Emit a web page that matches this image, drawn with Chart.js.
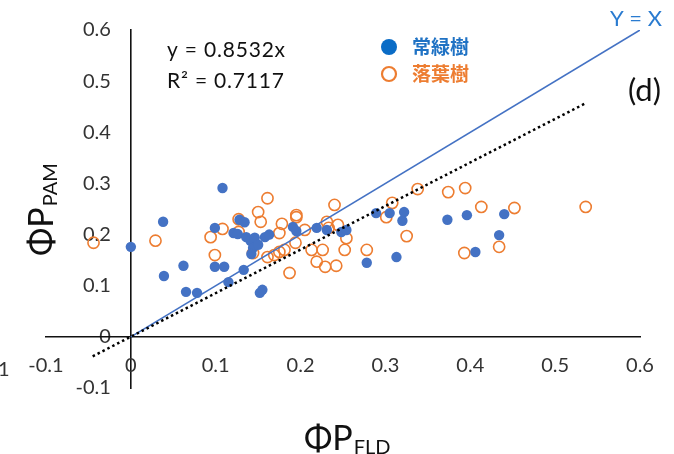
<!DOCTYPE html>
<html>
<head>
<meta charset="utf-8">
<script src="https://cdn.jsdelivr.net/npm/chart.js@4.4.1/dist/chart.umd.min.js"></script>
<style>
  html, body { margin: 0; padding: 0; background: #fff; }
  #wrap { width: 674px; height: 454px; }
</style>
</head>
<body>
<div id="wrap"><canvas id="phiChart" width="674" height="454"></canvas></div>
<script>
// evergreen (常緑樹) points
const evergreenX = [0, 0.038, 0.039, 0.062, 0.065, 0.078, 0.108, 0.099, 0.099, 0.110, 0.115, 0.133, 0.152, 0.155,
  0.128, 0.134, 0.121, 0.126, 0.136, 0.141, 0.146, 0.144, 0.142, 0.150, 0.158, 0.163, 0.191, 0.195, 0.219, 0.231,
  0.248, 0.254, 0.289, 0.305, 0.278, 0.313, 0.322, 0.320, 0.373, 0.396, 0.406, 0.434, 0.440];
const evergreenY = [0.176, 0.225, 0.119, 0.139, 0.088, 0.086, 0.291, 0.213, 0.137, 0.137, 0.107, 0.131, 0.086, 0.092,
  0.229, 0.224, 0.203, 0.201, 0.195, 0.188, 0.194, 0.174, 0.162, 0.180, 0.195, 0.200, 0.215, 0.207, 0.213, 0.209,
  0.205, 0.209, 0.242, 0.242, 0.145, 0.156, 0.244, 0.227, 0.229, 0.238, 0.166, 0.199, 0.240];

// deciduous (落葉樹) points
const deciduousX = [-0.044, 0.029, 0.094, 0.099, 0.108, 0.127, 0.127, 0.150, 0.153, 0.161, 0.144, 0.161, 0.169, 0.175,
  0.181, 0.178, 0.175, 0.195, 0.195, 0.194, 0.205, 0.187, 0.213, 0.219, 0.226, 0.229, 0.242, 0.231, 0.233, 0.240,
  0.244, 0.254, 0.252, 0.278, 0.301, 0.308, 0.338, 0.325, 0.374, 0.394, 0.413, 0.452, 0.393, 0.434, 0.536];
const deciduousY = [0.184, 0.188, 0.195, 0.160, 0.211, 0.230, 0.205, 0.244, 0.225, 0.271, 0.164, 0.156, 0.160, 0.166,
  0.170, 0.221, 0.203, 0.238, 0.234, 0.184, 0.209, 0.125, 0.170, 0.147, 0.170, 0.137, 0.139, 0.225, 0.213, 0.258,
  0.219, 0.193, 0.170, 0.170, 0.234, 0.262, 0.289, 0.197, 0.283, 0.291, 0.254, 0.252, 0.164, 0.176, 0.254];

// reference line Y = X and trend line y = 0.8532x (end points)
const identityX = [0, 0.6];
const identityY = [0, 0.6];
const trendX = [-0.045, 0.535];
const trendY = [-0.038, 0.456];

const tickValues = [-0.1, 0, 0.1, 0.2, 0.3, 0.4, 0.5, 0.6];

const BLUE = '#4472C4';
const ORANGE = '#ED7D31';

const toPts = (xs, ys) => xs.map((x, i) => ({ x: x, y: ys[i] }));
const tickFmt = v => String(Math.round(v * 10) / 10);
const setTicks = axis => { axis.ticks = tickValues.map(v => ({ value: v })); };

const textPlugin = {
  id: 'texts',
  afterDraw(chart) {
    const c = chart.ctx;
    c.save();
    c.textBaseline = 'alphabetic';

    // equation
    c.fillStyle = '#111';
    c.font = '21px Lato';
    c.letterSpacing = '0.8px';
    c.textAlign = 'left';
    c.fillText('y = 0.8532x', 167, 57);
    c.fillText('R² = 0.7117', 167, 88);
    c.letterSpacing = '0px';

    // legend
    c.fillStyle = '#0a6cc6';
    c.beginPath();
    c.arc(389, 47, 8, 0, Math.PI * 2);
    c.fill();
    c.strokeStyle = ORANGE;
    c.lineWidth = 2.2;
    c.beginPath();
    c.arc(389, 74, 7, 0, Math.PI * 2);
    c.stroke();
    c.font = 'bold 19px "Noto Sans CJK JP"';
    c.fillStyle = '#1f72c4';
    c.fillText('常緑樹', 412, 54);
    c.fillStyle = ORANGE;
    c.fillText('落葉樹', 412, 81);

    // Y = X label
    c.fillStyle = '#2a7bd0';
    c.font = '22px Lato';
    c.textAlign = 'right';
    c.fillText('Y = X', 662, 26);

    // panel label
    c.fillStyle = '#111';
    c.font = '31px Lato';
    c.fillText('(d)', 661, 101);

    // stray clipped label at the left edge
    c.textAlign = 'left';
    c.font = '20px Lato';
    c.fillStyle = '#333';
    c.fillText('1', -2, 376);

    // x axis title
    c.fillStyle = '#111';
    c.font = '34px Lato';
    c.fillText('ΦP', 304, 450);
    const w = c.measureText('ΦP').width;
    c.font = '20px Lato';
    c.fillText('FLD', 304 + w + 1, 454);

    // y axis title (rotated)
    c.translate(53, 256);
    c.rotate(-Math.PI / 2);
    c.font = '34px Lato';
    c.fillText('ΦP', 0, 0);
    const w2 = c.measureText('ΦP').width;
    c.font = '20px Lato';
    c.fillText('PAM', w2 + 1, 4);
    c.restore();
  }
};

const tickFont = { family: 'Lato', size: 20 };

const ctx = document.getElementById('phiChart').getContext('2d');
new Chart(ctx, {
  type: 'scatter',
  data: {
    datasets: [
      {
        label: 'trend',
        data: toPts(trendX, trendY),
        showLine: true,
        borderColor: '#000',
        borderWidth: 2.5,
        borderDash: [2.5, 3],
        pointRadius: 0,
        fill: false,
        yAxisID: 'y'
      },
      {
        label: 'Y = X',
        data: toPts(identityX, identityY),
        showLine: true,
        borderColor: BLUE,
        borderWidth: 1.6,
        pointRadius: 0,
        fill: false,
        yAxisID: 'y'
      },
      {
        label: '常緑樹',
        data: toPts(evergreenX, evergreenY),
        backgroundColor: BLUE,
        borderColor: BLUE,
        borderWidth: 0,
        pointRadius: 5.2,
        yAxisID: 'y'
      },
      {
        label: '落葉樹',
        data: toPts(deciduousX, deciduousY),
        backgroundColor: 'rgba(255,255,255,0)',
        borderColor: ORANGE,
        borderWidth: 1.6,
        pointRadius: 5.6,
        yAxisID: 'y'
      }
    ]
  },
  options: {
    responsive: false,
    animation: false,
    layout: { padding: { left: 46, right: 34, top: 30, bottom: 66 } },
    plugins: {
      legend: { display: false },
      tooltip: { enabled: false }
    },
    scales: {
      y: {
        type: 'linear',
        position: { x: 0 },
        min: -0.1,
        max: 0.6,
        afterBuildTicks: setTicks,
        grid: { display: false, drawTicks: false },
        border: { display: true, color: '#111', width: 1.6 },
        ticks: { display: false }
      },
      // labels of the y axis, set a little left of the y axis line
      yLabels: {
        type: 'linear',
        axis: 'y',
        position: { x: -0.0236 },
        min: -0.1,
        max: 0.6,
        afterBuildTicks: setTicks,
        grid: { display: false, drawTicks: false },
        border: { display: false },
        ticks: {
          autoSkip: false,
          color: '#333',
          font: tickFont,
          callback: tickFmt
        }
      },
      x: {
        type: 'linear',
        position: { y: 0 },
        min: -0.1,
        max: 0.6,
        afterBuildTicks: setTicks,
        grid: { display: false, drawTicks: false },
        border: { display: true, color: '#111', width: 1.6 },
        ticks: {
          autoSkip: false,
          maxRotation: 0,
          padding: 17,
          color: '#333',
          font: tickFont,
          callback: tickFmt
        }
      }
    }
  },
  plugins: [textPlugin]
});
</script>
</body>
</html>
